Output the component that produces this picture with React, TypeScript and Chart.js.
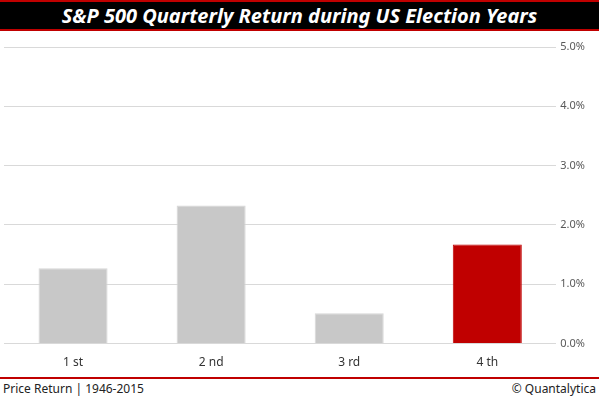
import React, { useEffect, useRef } from "react";
import { Chart, registerables } from "chart.js";

Chart.register(...registerables);

const categories = ["1 st", "2 nd", "3 rd", "4 th"];
const returns = [1.27, 2.33, 0.51, 1.67];
const barColors = ["#c8c8c8", "#c8c8c8", "#c8c8c8", "#c00000"];
const borderColors = ["#d6d6d6", "#d6d6d6", "#d6d6d6", "#c00000"];
const yTicks = [0, 1, 2, 3, 4, 5];

const FONT = "'Noto Sans', 'Open Sans', 'DejaVu Sans', sans-serif";

export default function App() {
  const ref = useRef<HTMLCanvasElement | null>(null);
  useEffect(() => {
    document.body.style.margin = "0";
    const chart = new Chart(ref.current!, {
      type: "bar",
      data: {
        labels: categories,
        datasets: [
          {
            data: returns,
            backgroundColor: barColors,
            borderColor: borderColors,
            borderWidth: 1,
            barPercentage: 0.5,
            categoryPercentage: 1,
          },
        ],
      },
      options: {
        animation: false,
        responsive: false,
        maintainAspectRatio: false,
        layout: { padding: { top: 13, left: 4, right: 10, bottom: 0 } },
        plugins: { legend: { display: false }, tooltip: { enabled: false } },
        scales: {
          x: {
            grid: { display: false },
            border: { display: false },
            ticks: { color: "#333333", font: { family: FONT, size: 12 }, padding: 4 },
          },
          y: {
            position: "right",
            min: 0,
            max: 5,
            afterBuildTicks: (axis: any) => {
              axis.ticks = yTicks.map((v) => ({ value: v }));
            },
            grid: { color: "#d9d9d9", drawTicks: false },
            border: { display: false },
            ticks: {
              color: "#595959",
              font: { family: FONT, size: 11 },
              padding: 4,
              callback: (v: any) => Number(v).toFixed(1) + "%",
            },
          },
        },
      },
    });
    return () => chart.destroy();
  }, []);

  return (
    <div style={{ position: "absolute", left: 0, top: 0, width: 599, height: 399, background: "#fff", fontFamily: FONT }}>
      <div
        style={{
          position: "absolute",
          left: 0,
          top: 0,
          width: 599,
          height: 27,
          background: "#000",
          borderTop: "2px solid #c00000",
          borderBottom: "2px solid #c00000",
          color: "#fff",
          fontWeight: "bold",
          fontStyle: "italic",
          fontSize: 20,
          lineHeight: "27px",
          textAlign: "center",
        }}
      >
        S&amp;P 500 Quarterly Return during US Election Years
      </div>
      <canvas ref={ref} width={599} height={340} style={{ position: "absolute", left: 0, top: 34, width: 599, height: 340 }} />
      <div style={{ position: "absolute", left: 0, top: 377, width: 599, height: 2, background: "#c00000" }} />
      <div style={{ position: "absolute", left: 3, top: 380, fontSize: 12, color: "#222", lineHeight: "18px" }}>
        Price Return | 1946-2015
      </div>
      <div style={{ position: "absolute", right: 3, top: 380, fontSize: 12, color: "#222", lineHeight: "18px" }}>
        © Quantalytica
      </div>
    </div>
  );
}
